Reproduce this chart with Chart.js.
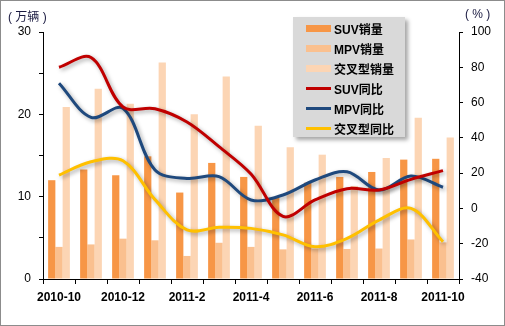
<!DOCTYPE html>
<html>
<head>
<meta charset="utf-8">
<script src="https://cdn.jsdelivr.net/npm/chart.js@4.4.0/dist/chart.umd.min.js"></script>
<style>
  body { margin: 0; background: #fff; }
  #wrap { position: relative; width: 505px; height: 326px; font-family: "Liberation Sans", Arial, "Noto Sans CJK SC", sans-serif; }
  #frame { position: absolute; left: 0; top: 0; width: 503px; height: 324px; border: 1px solid #8c8c8c; pointer-events: none; }
  .unit { position: absolute; top: 7px; font-size: 12px; color: #1a1a40; font-family: "Liberation Sans", "Noto Sans CJK SC", sans-serif; }
  #legend { position: absolute; left: 293px; top: 17px; width: 112px; height: 120px; background: #d9d9d9; box-shadow: 3px 3px 4px rgba(0,0,0,0.35); }
  .item { position: absolute; left: 13px; height: 16px; display: flex; align-items: center; }
  .sw { width: 25px; margin-right: 3px; }
  .lbl { font-size: 12px; font-weight: bold; color: #000; font-family: "Liberation Sans", "Noto Sans CJK SC", sans-serif; white-space: nowrap; }
</style>
</head>
<body>
<div id="wrap">
  <canvas id="chart" width="505" height="326"></canvas>
  <div class="unit" style="left:8px">( 万辆 )</div>
  <div class="unit" style="left:465px">( % )</div>
  <div id="legend"></div>
  <div id="frame"></div>
</div>
<script>
  const months = ['2010-10', '2010-11', '2010-12', '2011-1', '2011-2', '2011-3', '2011-4',
    '2011-5', '2011-6', '2011-7', '2011-8', '2011-9', '2011-10'];

  // sales, 10k vehicles (left axis)
  const suvSales = [12.0, 13.3, 12.6, 14.9, 10.5, 14.1, 12.4, 9.9, 11.7, 12.4, 13.0, 14.5, 14.6];
  const mpvSales = [3.9, 4.2, 4.9, 4.7, 2.8, 4.4, 3.9, 3.6, 3.7, 3.65, 3.7, 4.8, 4.45];
  const crossSales = [20.9, 23.1, 21.3, 26.3, 20.0, 24.6, 18.6, 16.0, 15.1, 11.3, 14.7, 19.6, 17.2];

  // year-on-year growth, % (right axis)
  const suvYoy = [80, 85.5, 57.5, 56.5, 49, 35, 19.5, -4.5, 4.8, 11.2, 10.4, 16.5, 21.4];
  const mpvYoy = [71, 51.6, 56.7, 21.8, 17, 18, 4.8, 7.6, 16.1, 20.8, 10.4, 18.4, 12];
  const crossYoy = [18.9, 26.5, 27, 5, -12.2, -10.7, -11.3, -15, -21.7, -17, -6.6, 0, -18.9];

  const seriesNames = ['SUV销量', 'MPV销量', '交叉型销量', 'SUV同比', 'MPV同比', '交叉型同比'];
  const seriesColors = ['#F79646', '#FAC08F', '#FCD5B4', '#C00000', '#1F497D', '#FFC000'];

  function bar(i, values) {
    return {
      type: 'bar', label: seriesNames[i], data: values, yAxisID: 'y', order: 1,
      backgroundColor: seriesColors[i], borderWidth: 0,
      categoryPercentage: 0.68, barPercentage: 1.0
    }
  }

  function line(i, values) {
    return {
      type: 'line', label: seriesNames[i], data: values, yAxisID: 'y1', order: 0,
      borderColor: seriesColors[i], borderWidth: 3, tension: 0.35,
      pointRadius: 0, fill: false
    }
  }

  // soft drop shadow under the lines, like the original
  const lineShadow = {
    id: 'lineShadow',
    beforeDatasetDraw(chart, args) {
      if (args.meta.type !== 'line') return
      const ctx = chart.ctx
      ctx.save()
      ctx.shadowColor = 'rgba(0,0,0,0.35)'
      ctx.shadowBlur = 4
      ctx.shadowOffsetX = 2
      ctx.shadowOffsetY = 2
    },
    afterDatasetDraw(chart, args) {
      if (args.meta.type !== 'line') return
      chart.ctx.restore()
    }
  }

  const tickFont = { family: '"Liberation Sans", Arial, sans-serif', size: 12 };

  new Chart(document.getElementById('chart'), {
    data: {
      labels: months,
      datasets: [
        bar(0, suvSales), bar(1, mpvSales), bar(2, crossSales),
        line(3, suvYoy), line(4, mpvYoy), line(5, crossYoy)
      ]
    },
    options: {
      responsive: false,
      animation: false,
      devicePixelRatio: 1,
      layout: { padding: { top: 32, left: 0, right: 0, bottom: 0 } },
      plugins: { legend: { display: false }, tooltip: { enabled: false } },
      scales: {
        x: {
          offset: true,
          grid: { display: true, drawOnChartArea: false, tickLength: 5, color: '#000', offset: true },
          border: { display: true, color: '#000' },
          ticks: {
            autoSkip: false, maxRotation: 0, padding: 6, color: '#000',
            font: { ...tickFont, weight: 'bold' },
            callback: (v, i) => (i % 2 === 0 ? months[i] : '')
          },
          afterFit: s => { s.height = 47 }
        },
        y: {
          position: 'left', min: 0, max: 30,
          grid: { drawOnChartArea: false, tickLength: 4, color: '#000' },
          border: { display: true, color: '#000' },
          ticks: {
            stepSize: 5, padding: 8, color: '#000', font: tickFont,
            callback: v => (v % 10 === 0 ? v : '')
          },
          afterFit: s => { s.width = 43 }
        },
        y1: {
          position: 'right', min: -40, max: 100,
          grid: { drawOnChartArea: false, tickLength: 4, color: '#000' },
          border: { display: true, color: '#000' },
          ticks: { stepSize: 20, padding: 8, color: '#000', font: tickFont },
          afterFit: s => { s.width = 46 }
        }
      }
    },
    plugins: [lineShadow]
  })

  // legend box
  const legendElem = document.getElementById('legend')
  seriesNames.forEach((name, i) => {
    const item = document.createElement('div')
    item.className = 'item'
    item.style.top = (3 + i * 20) + 'px'
    const sw = document.createElement('div')
    sw.className = 'sw'
    sw.style.height = i < 3 ? '7px' : '3px'
    sw.style.background = seriesColors[i]
    const lbl = document.createElement('span')
    lbl.className = 'lbl'
    lbl.textContent = name
    item.appendChild(sw)
    item.appendChild(lbl)
    legendElem.appendChild(item)
  })
</script>
</body>
</html>
